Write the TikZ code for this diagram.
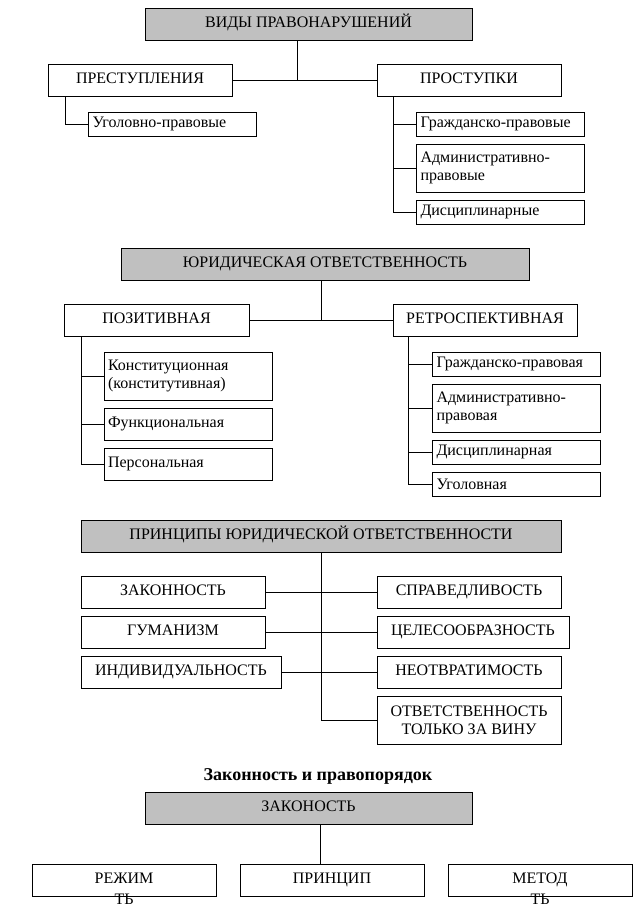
\documentclass[tikz,border=0pt]{standalone}
\usepackage{fontspec}
\setmainfont{Liberation Serif}
\definecolor{headgray}{RGB}{192,192,192}

\begin{document}
\begin{tikzpicture}[x=1pt,y=-1pt,line width=0.9pt,
  every node/.style={font=\fontsize{16}{18}\selectfont},
  box/.style={draw,rectangle,inner sep=0pt,minimum height=32pt,text height=11pt,text depth=4pt},
  head/.style={box,fill=headgray},
  item/.style={draw,rectangle,inner xsep=4pt,inner ysep=0pt,text width=160pt,align=left}]
\useasboundingbox (0,0) rectangle (641,921);
\node[head,minimum width=327pt] (vidy) at (308.5,24) {ВИДЫ ПРАВОНАРУШЕНИЙ};
\node[box,minimum width=184pt] (prest) at (140,80) {ПРЕСТУПЛЕНИЯ};
\node[box,minimum width=184pt] (prost) at (469,80) {ПРОСТУПКИ};
\foreach \n/\c/\h/\txt in {ugol/{172.5,124}/24/{Уголовно-правовые},
  grazh/{500.5,124}/24/{Гражданско-правовые},
  adm/{500.5,168}/48/{Административно-\\правовые},
  dis/{500.5,212}/24/{Дисциплинарные}}
 \node[item,minimum height=\h pt] (\n) at (\c) {\txt};
\coordinate (t1) at (297,80);
\coordinate (l1) at (65,96);
\coordinate (r1) at (393,96);
\draw (vidy.south -| t1) -- (t1);
\draw (prest.east) -- (prost.west);
\draw (l1) |- (ugol.west);
\draw (r1) |- (dis.west);
\foreach \n in {grazh,adm} \draw (r1 |- \n.west) -- (\n.west);

\node[head,minimum width=408pt] (yur) at (325,264) {ЮРИДИЧЕСКАЯ ОТВЕТСТВЕННОСТЬ};
\node[box,minimum width=185pt] (pos) at (156.5,320) {ПОЗИТИВНАЯ};
\node[box,minimum width=184pt] (retro) at (485,320) {РЕТРОСПЕКТИВНАЯ};
\foreach \n/\c/\h/\txt in {konst/{188,376}/48/{Конституционная\\(конститутивная)},
  func/{188,424}/32/{Функциональная},
  pers/{188,464}/32/{Персональная},
  grp/{516.5,364}/24/{Гражданско-правовая},
  adm2/{516.5,408}/48/{Административно-\\правовая},
  dis2/{516.5,452}/24/{Дисциплинарная},
  ugol2/{516.5,484}/24/{Уголовная}}
 \node[item,minimum height=\h pt] (\n) at (\c) {\txt};
\coordinate (t2) at (321,320);
\coordinate (l2) at (81,336);
\coordinate (r2) at (408,336);
\draw (yur.south -| t2) -- (t2);
\draw (pos.east) -- (retro.west);
\draw (l2) |- (pers.west);
\draw (r2) |- (ugol2.west);
\foreach \n in {konst,func} \draw (l2 |- \n.west) -- (\n.west);
\foreach \n in {grp,adm2,dis2} \draw (r2 |- \n.west) -- (\n.west);

\node[head,minimum width=480pt] (princ) at (321,536) {ПРИНЦИПЫ ЮРИДИЧЕСКОЙ ОТВЕТСТВЕННОСТИ};
\node[box,minimum width=184pt] (zak) at (173,592) {ЗАКОННОСТЬ};
\node[box,minimum width=184pt] (gum) at (173,632) {ГУМАНИЗМ};
\node[box,minimum width=200pt] (ind) at (181,672) {ИНДИВИДУАЛЬНОСТЬ};
\node[box,minimum width=184pt] (sprav) at (469,592) {СПРАВЕДЛИВОСТЬ};
\node[box,minimum width=192pt] (cel) at (473,632) {ЦЕЛЕСООБРАЗНОСТЬ};
\node[box,minimum width=184pt] (neotv) at (469,672) {НЕОТВРАТИМОСТЬ};
\node[draw,rectangle,inner sep=0pt,minimum width=184pt,minimum height=48pt,align=center] (otv) at (469,720) {ОТВЕТСТВЕННОСТЬ\\ТОЛЬКО ЗА ВИНУ};
\coordinate (t3) at (321,720);
\draw (princ.south -| t3) -- (t3) -- (otv.west);
\foreach \a/\b in {zak/sprav,gum/cel,ind/neotv} \draw (\a.east) -- (\b.west);

\node[font=\fontsize{18}{20}\selectfont\bfseries] (title) at (318,776) {Законность и правопорядок};
\node[head,minimum width=327pt] (zakon) at (308.5,808) {ЗАКОНОСТЬ};
\node[box,minimum width=184pt] (rezh) at (124,880) {РЕЖИМ};
\node[box,minimum width=184pt] (prin) at (332,880) {ПРИНЦИП};
\node[box,minimum width=184pt] (metod) at (540,880) {МЕТОД};
\node[anchor=north,inner sep=0pt,yshift=3pt] (rezhT) at (rezh.south) {ТЬ};
\node[anchor=north,inner sep=0pt,yshift=3pt] (metodT) at (metod.south) {ТЬ};
\coordinate (t4) at (320,824);
\draw (t4) -- (t4 |- prin.north);
\end{tikzpicture}
\end{document}
